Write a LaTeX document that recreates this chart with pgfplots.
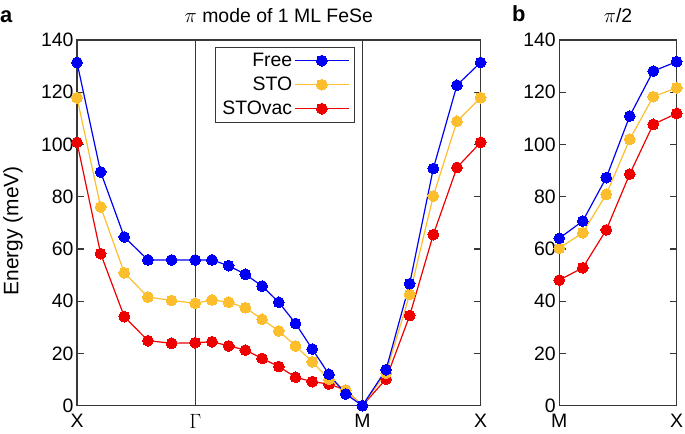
\documentclass[border=0pt]{standalone}
\usepackage{fontspec}
\setmainfont{Liberation Sans}
\usepackage{pgfplots}
\pgfplotsset{compat=1.18}

\definecolor{cfree}{RGB}{0,0,245}
\definecolor{csto}{RGB}{252,190,45}
\definecolor{cvac}{RGB}{238,0,0}
\definecolor{axgray}{RGB}{55,55,55}

\pgfplotsset{
  phon/.style={
    scale only axis, height=365.7bp, ymin=0, ymax=140,
    ytick={0,20,...,140}, ytick pos=both, yticklabel pos=left,
    tick align=inside, major tick length=6.5bp,
    xtick style={draw=none},
    axis line style={axgray, line width=1.2bp},
    every tick/.style={axgray, line width=1.2bp},
    /pgf/number format/assume math mode=true,
    tick label style={font=\fontsize{19.5}{22}\selectfont},
    xticklabel style={yshift=-5bp},
    label style={font=\fontsize{21}{24}\selectfont},
    title style={font=\fontsize{19.5}{22}\selectfont, at={(0.5,1)}, anchor=base, yshift=12bp},
    clip=false,
    every axis plot/.append style={line width=1.2bp, mark=*, mark size=5.4bp},
    legend image code/.code={\draw[mark repeat=2,mark phase=2,#1] plot coordinates {(0bp,0bp) (27bp,0bp) (54bp,0bp)};},
  },
  sfree/.style={draw=cfree, color=cfree, mark options={fill=cfree, draw=cfree, line width=0}},
  ssto/.style={draw=csto, color=csto, mark options={fill=csto, draw=csto, line width=0}},
  svac/.style={draw=cvac, color=cvac, mark options={fill=cvac, draw=cvac, line width=0}},
}

\begin{document}
\begin{tikzpicture}
\useasboundingbox (0,0) rectangle (685bp,434bp);

\begin{axis}[phon,
  at={(77bp,28.3bp)}, anchor=south west, width=403.6bp,
  xmin=0, xmax=3.41421,
  xtick={0,1,2.41421,3.41421}, xticklabels={X,$\Gamma$,M,X},
  xmajorgrids, grid style={axgray, line width=1.2bp},
  title={$\pi$ mode of 1 ML FeSe},
  ylabel={Energy (meV)},
  ylabel style={at={(axis description cs:-0.1834,0.478)}, anchor=north, inner sep=0},
  reverse legend,
  legend cell align=right, legend plot pos=right,
  legend style={at={(0.6888,0.9817)}, anchor=north east,
    draw=axgray, line width=1.2bp, font=\fontsize{19.5}{22}\selectfont,
    row sep=5bp, inner xsep=5bp, inner ysep=4bp},
]
\addplot[svac] coordinates {
 (0,100.8) (0.2,58.2) (0.4,34.1) (0.6,24.9) (0.8,23.9) (1.0,24.1)
 (1.14142,24.5) (1.28284,22.9) (1.42426,21.3) (1.56569,18.1) (1.70711,15.0)
 (1.84853,10.9) (1.98995,9.2) (2.13137,8.3) (2.27279,6.0) (2.41421,0)
 (2.61421,10.2) (2.81421,34.5) (3.01421,65.5) (3.21421,91.2) (3.41421,100.8)
};
\addplot[ssto] coordinates {
 (0,117.9) (0.2,76.1) (0.4,50.9) (0.6,41.6) (0.8,40.3) (1.0,39.2)
 (1.14142,40.5) (1.28284,39.6) (1.42426,37.5) (1.56569,33.1) (1.70711,28.6)
 (1.84853,22.9) (1.98995,16.8) (2.13137,10.1) (2.27279,6.0) (2.41421,0)
 (2.61421,12.5) (2.81421,42.6) (3.01421,80.3) (3.21421,108.9) (3.41421,117.9)
};
\addplot[sfree] coordinates {
 (0,131.4) (0.2,89.5) (0.4,64.6) (0.6,55.8) (0.8,55.8) (1.0,55.8)
 (1.14142,55.8) (1.28284,53.6) (1.42426,50.3) (1.56569,45.8) (1.70711,39.6)
 (1.84853,31.5) (1.98995,21.7) (2.13137,12.0) (2.27279,4.5) (2.41421,0)
 (2.61421,13.8) (2.81421,46.7) (3.01421,90.8) (3.21421,122.7) (3.41421,131.4)
};
\legend{STOvac,STO,Free}
\end{axis}

\begin{axis}[phon,
  at={(559.3bp,28.3bp)}, anchor=south west, width=117.4bp,
  xmin=0, xmax=5,
  xtick={0,5}, xticklabels={M,X},
  title={$\pi$/2},
]
\addplot[svac] coordinates {
 (0,48.1) (1,52.8) (2,67.3) (3,88.7) (4,107.7) (5,111.9)
};
\addplot[ssto] coordinates {
 (0,60.3) (1,66.2) (2,80.9) (3,102.0) (4,118.3) (5,121.7)
};
\addplot[sfree] coordinates {
 (0,64.1) (1,70.7) (2,87.3) (3,110.9) (4,128.1) (5,131.7)
};
\end{axis}

\node[anchor=base west, inner sep=0, font=\fontsize{22}{24}\selectfont\bfseries] at (0bp,411bp) {a};
\node[anchor=base west, inner sep=0, font=\fontsize{22}{24}\selectfont\bfseries] at (512bp,412bp) {b};
\end{tikzpicture}
\end{document}
